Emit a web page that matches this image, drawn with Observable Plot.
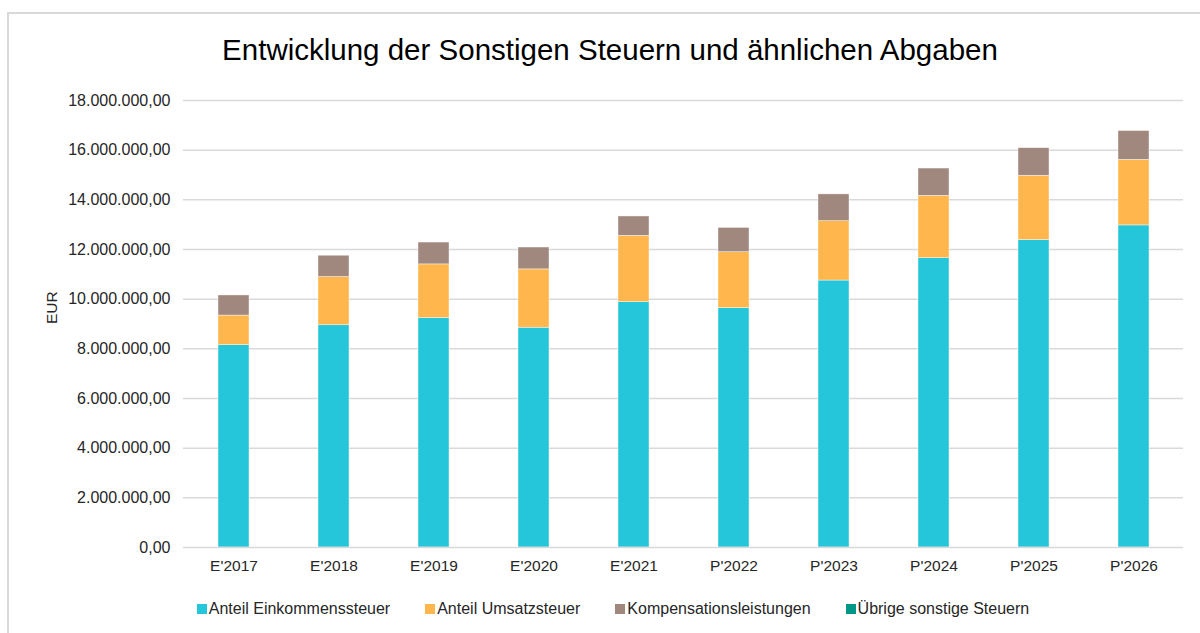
<!DOCTYPE html>
<html>
<head>
<meta charset="utf-8">
<script src="https://cdn.jsdelivr.net/npm/d3@7"></script>
<script src="https://cdn.jsdelivr.net/npm/@observablehq/plot@0.6"></script>
<style>
  html, body { margin: 0; padding: 0; background: #fff; overflow: hidden; }
  body { width: 1200px; height: 633px; position: relative; font-family: "Liberation Sans", Arial, sans-serif; }
  #frame { position: absolute; left: 7px; top: 12px; width: 1210px; height: 700px; border: 2px solid #d9d9d9; box-sizing: border-box; }
  #title { position: absolute; left: 0; top: 35px; width: 1220px; text-align: center; font-size: 29.5px; line-height: 1; color: #000; }
  #chart { position: absolute; left: 0; top: 0; }
  #legend { position: absolute; left: 0; top: 601px; width: 1226px; display: flex; justify-content: center; gap: 35px; font-size: 16px; line-height: 16px; color: #262626; }
  .item { display: flex; align-items: center; gap: 2px; }
  .sw { width: 10px; height: 10px; display: inline-block; }
</style>
</head>
<body>
<div id="frame"></div>
<div id="title">Entwicklung der Sonstigen Steuern und ähnlichen Abgaben</div>
<div id="chart"></div>
<div id="legend"></div>
<script>
const years = ["E'2017","E'2018","E'2019","E'2020","E'2021","P'2022","P'2023","P'2024","P'2025","P'2026"];
const einkommen = [8150000, 8950000, 9240000, 8850000, 9880000, 9640000, 10750000, 11650000, 12380000, 12970000];
const umsatz    = [1190000, 1940000, 2160000, 2350000, 2670000, 2250000, 2390000, 2510000, 2590000, 2640000];
const kompensation = [810000, 860000, 880000, 880000, 780000, 980000, 1080000, 1100000, 1110000, 1160000];
const uebrige   = [0, 0, 0, 0, 0, 0, 0, 0, 0, 0];
const seriesNames = ["Anteil Einkommenssteuer", "Anteil Umsatzsteuer", "Kompensationsleistungen", "Übrige sonstige Steuern"];
const seriesColors = ["#26C6DA", "#FFB74D", "#A1887F", "#009688"];
const yTicks = [0, 2000000, 4000000, 6000000, 8000000, 10000000, 12000000, 14000000, 16000000, 18000000];

const seriesValues = [einkommen, umsatz, kompensation, uebrige];
const rows = [];
years.forEach((y, i) => {
  seriesNames.forEach((s, j) => rows.push({year: y, series: s, value: seriesValues[j][i]}));
});

const de = d3.formatLocale({decimal: ",", thousands: ".", grouping: [3], currency: ["", " €"]});
const fmt = de.format(",.2f");

const chart = Plot.plot({
  width: 1200,
  height: 580,
  marginLeft: 183,
  marginRight: 17,
  marginTop: 100,
  marginBottom: 33,
  style: {fontFamily: "Liberation Sans, Arial, sans-serif", fontSize: "15.5px", color: "#262626", background: "transparent"},
  x: {domain: years, paddingInner: 0.69, paddingOuter: 0.345, label: null, tickSize: 0, tickPadding: 12},
  y: {domain: [0, 18000000], ticks: yTicks, tickFormat: fmt, label: null, tickSize: 0, tickPadding: 13},
  color: {domain: seriesNames, range: seriesColors},
  marks: [
    Plot.gridY(yTicks.filter(d => d > 0), {stroke: "#d9d9d9", strokeOpacity: 1, strokeWidth: 1.5}),
    Plot.barY(rows, Plot.stackY({x: "year", y: "value", fill: "series", order: seriesNames, stroke: "#ffffff", strokeWidth: 0.6, strokeOpacity: 0.7})),
    Plot.ruleY([0], {stroke: "#d9d9d9", strokeWidth: 1.5}),
    Plot.axisY({ticks: yTicks, tickFormat: fmt, tickSize: 0, tickPadding: 13, fontSize: 16, label: null}),
    Plot.text(["EUR"], {frameAnchor: "left", dx: -131, rotate: -90, fontSize: 15.5, fill: "#262626"})
  ]
});
document.getElementById("chart").appendChild(chart);

const legend = document.getElementById("legend");
seriesNames.forEach((s, j) => {
  const item = document.createElement("div");
  item.className = "item";
  const sw = document.createElement("span");
  sw.className = "sw";
  sw.style.background = seriesColors[j];
  const t = document.createElement("span");
  t.textContent = s;
  item.appendChild(sw);
  item.appendChild(t);
  legend.appendChild(item);
});
</script>
</body>
</html>
